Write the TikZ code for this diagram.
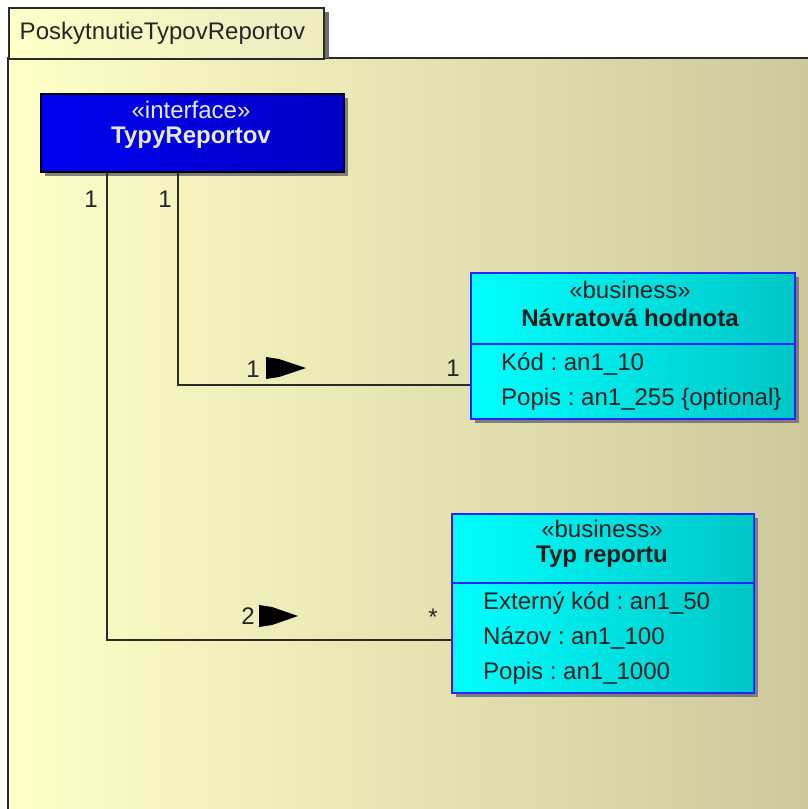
\documentclass[tikz,border=0pt]{standalone}
\usepackage{fontspec}
\setmainfont{Liberation Sans}
\usepackage{tikz}
\usetikzlibrary{calc,shadows}
\frenchspacing
\definecolor{pkgLight}{HTML}{FFFFC8}
\definecolor{pkgDark}{HTML}{CDC89C}
\definecolor{tabDark}{HTML}{EEEBC0}
\definecolor{pkgLine}{HTML}{2A2A2A}
\definecolor{ifaceLeft}{HTML}{0000F0}
\definecolor{ifaceRight}{HTML}{0000C6}
\definecolor{ifaceText}{HTML}{E8E8FF}
\definecolor{bizLeft}{HTML}{00FFFF}
\definecolor{bizRight}{HTML}{00C6C6}
\definecolor{bizLine}{HTML}{2424FF}
\definecolor{bizText}{HTML}{0A2020}
\definecolor{shadowGrey}{HTML}{6E6E6E}
\newcommand{\umlfont}{\fontsize{24}{28}\selectfont}
\tikzset{
  pkgtab/.style={rectangle, draw=pkgLine, line width=1.5pt, left color=pkgLight, right color=tabDark, anchor=north west, minimum width=315pt, minimum height=51pt, text width=293pt, inner xsep=11pt, align=left, font=\umlfont, text=black!85},
  boxshadow/.style={drop shadow={shadow xshift=4pt, shadow yshift=-4pt, fill=shadowGrey, opacity=0.85}},
  ifacebox/.style={rectangle, draw=black, line width=2pt, left color=ifaceLeft, right color=ifaceRight, anchor=north west, minimum width=303pt, minimum height=78pt, inner sep=0pt, boxshadow},
  bizbox/.style 2 args={rectangle, draw=bizLine, line width=2pt, left color=bizLeft, right color=bizRight, anchor=north west, minimum width=#1pt, minimum height=#2pt, inner sep=0pt, boxshadow},
  stereo/.style={font=\umlfont, inner sep=1pt},
  classname/.style={font=\umlfont\bfseries, inner sep=1pt},
  attr/.style={font=\umlfont, text=bizText, anchor=west, inner sep=1pt},
  mult/.style={font=\umlfont, text=black!85, inner sep=1pt},
  assoc/.style={draw=pkgLine, line width=2pt},
  divider/.style={draw=bizLine, line width=2pt},
  dirtri/.style={fill=black},
}

\begin{document}
\begin{tikzpicture}[x=1pt,y=-1pt]
  \useasboundingbox (0,0) rectangle (808,809);
  \clip (0,0) rectangle (808,809);

  % package frame
  \fill[white] (0,0) rectangle (808,809);
  \path[draw=pkgLine, line width=2pt, left color=pkgLight, right color=pkgDark] (8,58) rectangle (814,816);
  \fill[shadowGrey] (323,12) rectangle (329,58);
  \node[pkgtab] (pkg) at (8,7) {PoskytnutieTypovReportov};

  % classes
  \node[ifacebox] (iface) at (40,93) {};
  \node[stereo, text=ifaceText] (ifaceStereo) at (191,110) {«interface»};
  \node[classname, text=ifaceText] (ifaceName) at (191,138) {TypyReportov};

  \node[bizbox={324}{146}] (nav) at (470,272) {};
  \node[stereo, text=bizText] (navStereo) at (630,290) {«business»};
  \node[classname, text=bizText] (navName) at (630,318) {Návratová hodnota};
  \draw[divider] ($(nav.north west)+(0,72)$) -- ($(nav.north east)+(0,72)$);
  \node[attr] (navKod) at (500,364) {Kód : an1\_10};
  \node[attr] (navPopis) at (500,399) {Popis : an1\_255 \{optional\}};

  \node[bizbox={302}{179}] (typ) at (451,513) {};
  \node[stereo, text=bizText] (typStereo) at (602,529) {«business»};
  \node[classname, text=bizText] (typName) at (602,557) {Typ reportu};
  \draw[divider] ($(typ.north west)+(0,70)$) -- ($(typ.north east)+(0,70)$);
  \node[attr] (typKod) at (482,603) {Externý kód : an1\_50};
  \node[attr] (typNazov) at (482,638) {Názov : an1\_100};
  \node[attr] (typPopis) at (482,673) {Popis : an1\_1000};

  % associations
  \coordinate (navEnd) at ($(nav.north west)+(0,113)$);
  \coordinate (typEnd) at ($(typ.north west)+(0,127)$);
  \draw[assoc] ($(iface.south west)+(138,0)$) |- (navEnd);
  \draw[assoc] ($(iface.south west)+(67,0)$) |- (typEnd);

  \node[mult] (ifaceMultA) at (91,199) {1};
  \node[mult] (ifaceMultB) at (165,199) {1};
  \node[mult] (navRole) at (253,369) {1};
  \node[mult] (navMult) at (453,368) {1};
  \node[mult] (typRole) at (248,616) {2};
  \node[mult] (typMult) at (433,617) {*};

  \fill[dirtri] (266,357) -- (279,359) -- (306,368) -- (279,377) -- (266,379) -- cycle;
  \fill[dirtri] (259,605) -- (272,607) -- (298,616) -- (272,625) -- (259,627) -- cycle;
\end{tikzpicture}
\end{document}
